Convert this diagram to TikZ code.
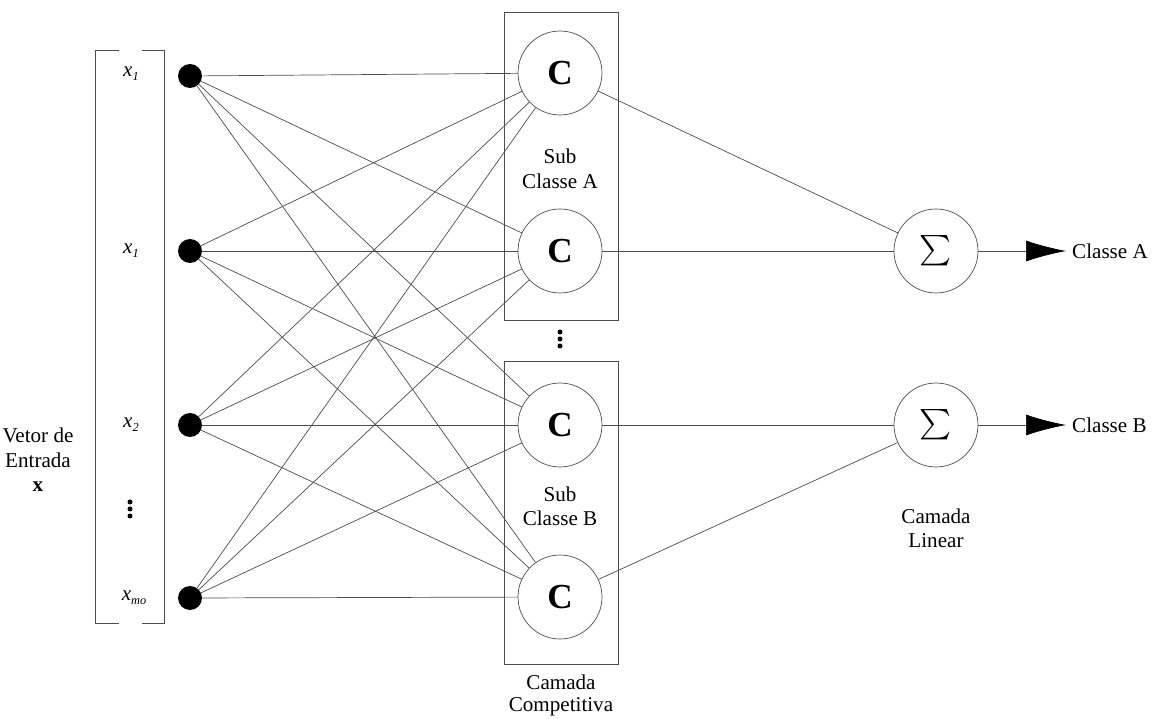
\documentclass[tikz,border=0pt]{standalone}
\usepackage{amsmath}
\usepackage{fontspec}
\setmainfont{Liberation Serif}
\usetikzlibrary{arrows.meta,positioning}

\begin{document}
\begin{tikzpicture}[
    x=0.02cm,
    y=-0.02cm,
    every node/.style={font=\fontsize{12}{14}\selectfont},
    input/.style={
        circle,
        fill=black,
        minimum size=0.48cm,
        inner sep=0pt
    },
    neuron/.style={
        circle,
        draw=black!70,
        thin,
        minimum size=1.68cm,
        inner sep=0pt
    },
    layer/.style={
        rectangle,
        draw=black!70,
        thin,
        minimum width=2.28cm
    },
    link/.style={
        draw=black!70,
        thin
    },
    arrow/.style={
        -{Latex[length=0.8cm,width=0.42cm,black]},
        draw=black!70,
        thin
    },
    caption/.style={
        align=center
    }
]
\useasboundingbox (0,0) rectangle (1164,719);

% Input vector
\draw[link] (119,50) -| (95,623) -- (119,623);
\draw[link] (142,50) -| (164,623) -- (142,623);
\node (x1) at (131,74) {\textit{x}\raisebox{-0.4ex}{\scriptsize\textit{1}}};
\node (x2) at (131,251) {\textit{x}\raisebox{-0.4ex}{\scriptsize\textit{1}}};
\node (x3) at (131,425) {\textit{x}\raisebox{-0.4ex}{\scriptsize\textit{2}}};
\node (x4) at (134,598) {\textit{x}\raisebox{-0.4ex}{\scriptsize\textit{mo}}};
\node[caption] (vetor) at (38,460) {Vetor de\\Entrada\\\textbf{x}};

% Input nodes
\node[input] (i1) at (190,76) {};
\node[input] (i2) at (190,251) {};
\node[input] (i3) at (190,425) {};
\node[input] (i4) at (190,598) {};

% Competitive layer
\node[layer, minimum height=6.16cm] (boxA) at (561,166) {};
\node[layer, minimum height=6.06cm] (boxB) at (561,513) {};
\node[neuron, font=\bfseries\fontsize{20}{22}\selectfont] (c1) at (560,73) {C};
\node[neuron, font=\bfseries\fontsize{20}{22}\selectfont] (c2) at (560,251) {C};
\node[neuron, font=\bfseries\fontsize{20}{22}\selectfont] (c3) at (560,425) {C};
\node[neuron, font=\bfseries\fontsize{20}{22}\selectfont] (c4) at (560,597) {C};
\node[caption, below=0.55cm of c1] (subA) {Sub\\Classe A};
\node[caption, above=0.45cm of c4] (subB) {Sub\\Classe B};
\node[caption, below=0.15cm of boxB, inner sep=1pt, font=\fontsize{12}{13}\selectfont] (comp) {Camada\\Competitiva};

% Linear layer
\node[neuron, font=\fontsize{18}{20}\selectfont] (s1) at (936,251) {$\sum$};
\node[neuron, font=\fontsize{18}{20}\selectfont] (s2) at (936,425) {$\sum$};
\node[caption, below=0.7cm of s2] (linear) {Camada\\Linear};

% Outputs
\node[anchor=west] (outA) at (1066,251) {Classe A};
\node[anchor=west] (outB) at (1066,425) {Classe B};

% Ellipsis dots
\foreach \d in {502,509,516} \fill (130,\d) circle (2.5);
\foreach \d in {332,339,346} \fill (560,\d) circle (2.5);

% Connections
\foreach \i in {1,...,4}
    \foreach \j in {1,...,4}
        \draw[link] (i\i) -- (c\j);
\draw[link] (c1) -- (s1);
\draw[link] (c2) -- (s1);
\draw[link] (c3) -- (s2);
\draw[link] (c4) -- (s2);
\draw[arrow] (s1) -- (outA);
\draw[arrow] (s2) -- (outB);

\end{tikzpicture}
\end{document}
